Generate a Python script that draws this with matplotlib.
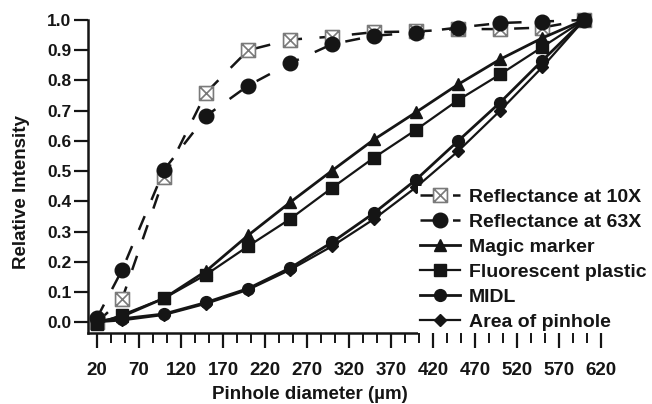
import numpy as np
import matplotlib
matplotlib.use("Agg")
import matplotlib.pyplot as plt
from matplotlib.path import Path
from matplotlib.ticker import FixedLocator

plt.rcParams['font.family'] = ['Liberation Sans', 'DejaVu Sans']

# pinhole diameters (um)
diam = [20, 50, 100, 150, 200, 250, 300, 350, 400, 450, 500, 550, 600]

refl_10x = [0.0, 0.078, 0.48, 0.76, 0.90, 0.935, 0.945, 0.96, 0.962, 0.97, 0.97, 0.975, 1.0]
refl_63x = [0.015, 0.174, 0.505, 0.683, 0.783, 0.857, 0.92, 0.948, 0.958, 0.975, 0.99, 0.995, 1.0]
magic = [0.0, 0.02, 0.08, 0.17, 0.288, 0.397, 0.502, 0.605, 0.695, 0.787, 0.87, 0.94, 1.0]
fluor = [-0.005, 0.025, 0.08, 0.158, 0.252, 0.342, 0.445, 0.545, 0.637, 0.735, 0.82, 0.91, 1.0]
midl = [0.005, 0.012, 0.028, 0.066, 0.112, 0.18, 0.265, 0.362, 0.472, 0.60, 0.727, 0.865, 1.0]
area = [0.001, 0.007, 0.025, 0.062, 0.108, 0.174, 0.252, 0.342, 0.447, 0.566, 0.70, 0.843, 1.0]

labels = ["Reflectance at 10X", "Reflectance at 63X", "Magic marker",
          "Fluorescent plastic", "MIDL", "Area of pinhole"]

# square with an X inside
box_x = Path([(-1, -1), (1, -1), (1, 1), (-1, 1), (-1, -1),
              (-1, -1), (1, 1), (-1, 1), (1, -1)],
             [Path.MOVETO, Path.LINETO, Path.LINETO, Path.LINETO, Path.CLOSEPOLY,
              Path.MOVETO, Path.LINETO, Path.MOVETO, Path.LINETO])

fig = plt.figure(figsize=(6.52, 4.04), dpi=100)
ax = fig.add_axes([88/652, 71/404, 517/652, 313/404])

ink = '#151515'
dash = (6, 7)
ax.plot(diam, refl_10x, color=ink, lw=1.8, dashes=dash, marker=box_x, ms=10,
        mfc='white', mec='#7a7a7a', mew=1.2, label=labels[0], clip_on=False)
ax.plot(diam, refl_63x, color=ink, lw=1.8, dashes=dash, marker='o', ms=10.5,
        mfc=ink, mec=ink, label=labels[1], clip_on=False)
ax.plot(diam, magic, color=ink, lw=2, marker='^', ms=8.5, mfc=ink, mec=ink,
        label=labels[2], clip_on=False)
ax.plot(diam, fluor, color=ink, lw=1.6, marker='s', ms=9, mfc=ink, mec=ink,
        label=labels[3], clip_on=False)
ax.plot(diam, midl, color=ink, lw=2, marker='o', ms=8.5, mfc=ink, mec=ink,
        label=labels[4], clip_on=False)
ax.plot(diam, area, color=ink, lw=1.6, marker='D', ms=6.5, mfc=ink, mec=ink,
        label=labels[5], clip_on=False)

ax.set_xlim(9.3, 625)
ax.set_ylim(-0.035, 1.0)

for s in ['top', 'right']:
    ax.spines[s].set_visible(False)
for s in ['left', 'bottom']:
    ax.spines[s].set_linewidth(1.8)
    ax.spines[s].set_color(ink)
ax.spines['bottom'].set_bounds(9.3, 401)

ax.xaxis.set_major_locator(FixedLocator(np.arange(20, 621, 50)))
ax.xaxis.set_minor_locator(FixedLocator(np.arange(20, 621, 50 / 3)))
ax.yaxis.set_major_locator(FixedLocator(np.arange(0, 1.01, 0.1)))
ax.yaxis.set_major_formatter(matplotlib.ticker.FormatStrFormatter('%.1f'))

ax.tick_params(axis='x', which='major', direction='out', length=11, width=1.6,
               pad=10, labelsize=13.5, colors=ink)
ax.tick_params(axis='x', which='minor', direction='out', length=7, width=1.4,
               colors=ink)
ax.tick_params(axis='y', which='major', direction='out', length=10, width=1.6,
               pad=2, labelsize=12.5, colors=ink)
for t in ax.get_xticklabels():
    t.set_fontweight('bold')
for t in ax.get_yticklabels():
    t.set_fontweight('bold')

ax.set_xlabel("Pinhole diameter (\u00b5m)", fontsize=13.5, fontweight='bold', color=ink)
ax.set_ylabel("Relative Intensity", fontsize=13.5, fontweight='bold', color=ink)
ax.xaxis.set_label_coords(0.43, -0.17)
ax.yaxis.set_label_coords(-0.112, 0.45)

leg = ax.legend(loc='upper left', bbox_to_anchor=(418/652, 1 - 186/404),
                bbox_transform=fig.transFigure, frameon=True, fancybox=False,
                facecolor='white', edgecolor='none', framealpha=1,
                prop={'weight': 'bold', 'size': 14}, handlelength=2.05,
                handletextpad=0.45, labelspacing=0.38, borderpad=0.1,
                borderaxespad=0)
for t in leg.get_texts():
    t.set_color(ink)
leg.set_zorder(5)

fig.savefig("out.png", dpi=100)
